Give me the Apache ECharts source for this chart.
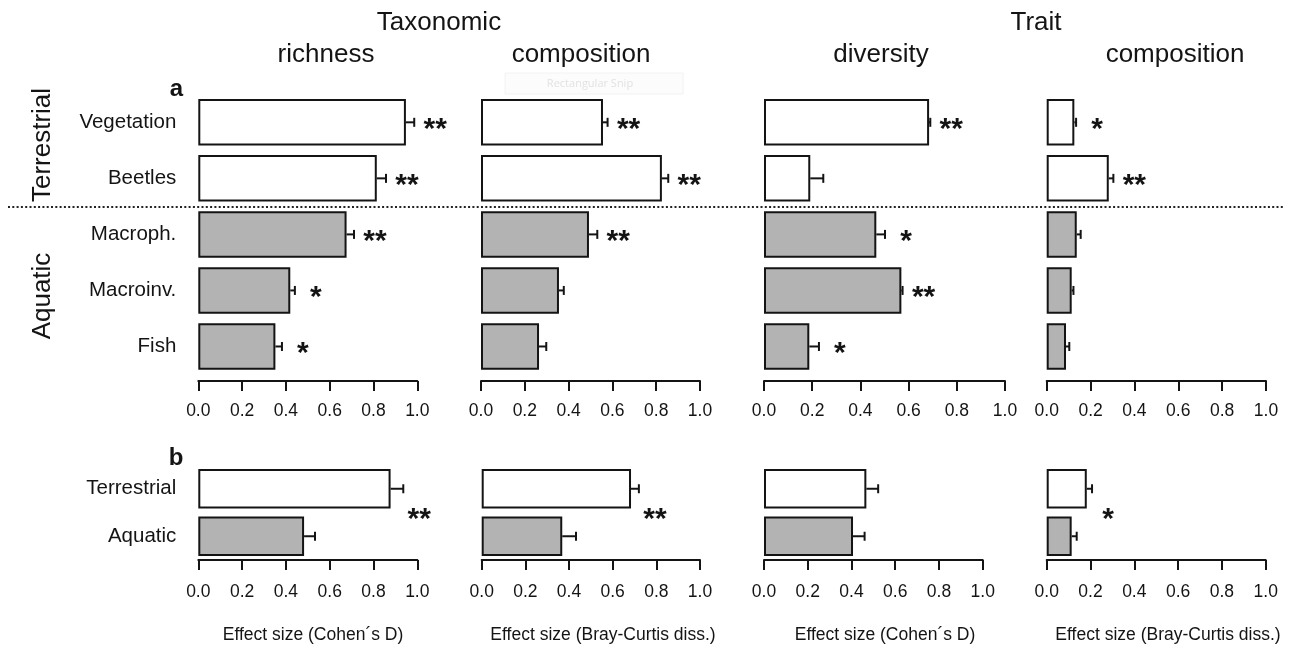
<!DOCTYPE html>
<html><head><meta charset="utf-8">
<script src="https://cdn.jsdelivr.net/npm/echarts@6/dist/echarts.min.js"></script>
<style>html,body{margin:0;padding:0;background:#fff}#c{width:1289px;height:648px}</style>
</head><body><div id="c"></div>
<script>
// ---------- DATA ----------
const categoriesA = ['Vegetation', 'Beetles', 'Macroph.', 'Macroinv.', 'Fish'];
const groupsA = ['terrestrial', 'terrestrial', 'aquatic', 'aquatic', 'aquatic'];
const categoriesB = ['Terrestrial', 'Aquatic'];
const groupsB = ['terrestrial', 'aquatic'];
const tickValues = [0, 0.2, 0.4, 0.6, 0.8, 1.0];

// panel a: effect sizes, upper end of error bar, significance
const taxRichnessA = [0.948, 0.815, 0.677, 0.420, 0.352];
const taxRichnessAUp = [0.986, 0.857, 0.711, 0.441, 0.382];
const taxRichnessASig = ['**', '**', '**', '*', '*'];

const taxCompositionA = [0.557, 0.826, 0.493, 0.356, 0.265];
const taxCompositionAUp = [0.578, 0.855, 0.531, 0.378, 0.298];
const taxCompositionASig = ['**', '**', '**', '', ''];

const traitDiversityA = [0.685, 0.192, 0.466, 0.570, 0.188];
const traitDiversityAUp = [0.690, 0.246, 0.502, 0.575, 0.228];
const traitDiversityASig = ['**', '', '*', '**', '*'];

const traitCompositionA = [0.126, 0.283, 0.137, 0.114, 0.088];
const traitCompositionAUp = [0.134, 0.304, 0.155, 0.122, 0.103];
const traitCompositionASig = ['*', '**', '', '', ''];

// panel b
const taxRichnessB = [0.878, 0.483];
const taxRichnessBUp = [0.936, 0.533];
const taxRichnessBSig = '**';

const taxCompositionB = [0.684, 0.369];
const taxCompositionBUp = [0.720, 0.432];
const taxCompositionBSig = '**';

const traitDiversityB = [0.468, 0.407];
const traitDiversityBUp = [0.522, 0.460];
const traitDiversityBSig = '';

const traitCompositionB = [0.183, 0.114];
const traitCompositionBUp = [0.207, 0.137];
const traitCompositionBSig = '*';

const axisNames = ['Effect size (Cohen\u00b4s D)', 'Effect size (Bray-Curtis diss.)', 'Effect size (Cohen\u00b4s D)', 'Effect size (Bray-Curtis diss.)'];

// ---------- STYLE / LAYOUT ----------
const FONT = '"Liberation Sans", Arial, Helvetica, sans-serif';
const INK = '#141414';
const FILL = {terrestrial: '#ffffff', aquatic: '#b3b3b3'};

const rowA = {top: 94.3, height: 280.2, barWidth: 46.5, axisOffset: 6.5, labelMargin: 21,
  lefts: [198.3, 481, 764, 1046.7], widths: [219, 219, 241, 219.3]};
const rowB = {top: 465, height: 95, barWidth: 39.5, axisOffset: 0, labelMargin: 23,
  lefts: [198.3, 481.7, 764, 1046.7], widths: [219, 218.3, 218.7, 219]};

const panels = [
  {row: rowA, col: 0, cats: categoriesA, groups: groupsA, v: taxRichnessA, up: taxRichnessAUp, sig: taxRichnessASig},
  {row: rowA, col: 1, cats: categoriesA, groups: groupsA, v: taxCompositionA, up: taxCompositionAUp, sig: taxCompositionASig},
  {row: rowA, col: 2, cats: categoriesA, groups: groupsA, v: traitDiversityA, up: traitDiversityAUp, sig: traitDiversityASig},
  {row: rowA, col: 3, cats: categoriesA, groups: groupsA, v: traitCompositionA, up: traitCompositionAUp, sig: traitCompositionASig},
  {row: rowB, col: 0, cats: categoriesB, groups: groupsB, v: taxRichnessB, up: taxRichnessBUp, sig: taxRichnessBSig},
  {row: rowB, col: 1, cats: categoriesB, groups: groupsB, v: taxCompositionB, up: taxCompositionBUp, sig: taxCompositionBSig},
  {row: rowB, col: 2, cats: categoriesB, groups: groupsB, v: traitDiversityB, up: traitDiversityBUp, sig: traitDiversityBSig},
  {row: rowB, col: 3, cats: categoriesB, groups: groupsB, v: traitCompositionB, up: traitCompositionBUp, sig: traitCompositionBSig}
];

const grid = [], xAxis = [], yAxis = [], series = [];

function starText(x, y, s) {
  return {type: 'text', x: x, y: y + 7,
    style: {text: s, fontSize: 30, fontWeight: 'bold', fontFamily: FONT, fill: INK,
      align: 'center', verticalAlign: 'middle', textAlign: 'center', textVerticalAlign: 'middle'}};
}

panels.forEach(function (p, i) {
  const r = p.row;
  grid.push({left: r.lefts[p.col], width: r.widths[p.col], top: r.top, height: r.height, containLabel: false});
  xAxis.push({
    gridIndex: i, type: 'value', min: 0, max: 1, interval: 0.2, position: 'bottom', offset: r.axisOffset,
    axisLine: {show: true, onZero: false, lineStyle: {color: INK, width: 2}},
    axisTick: {show: true, inside: false, length: 10, lineStyle: {color: INK, width: 2}},
    axisLabel: {show: true, fontSize: 17.5, fontFamily: FONT, color: INK, margin: r.labelMargin,
      formatter: function (val) { return tickValues.indexOf(Math.round(val * 10) / 10) >= 0 ? val.toFixed(1) : ''; }},
    splitLine: {show: false}
  });
  yAxis.push({
    gridIndex: i, type: 'category', inverse: true, data: p.cats,
    axisLine: {show: false}, axisTick: {show: false},
    axisLabel: {show: p.col === 0, fontSize: 20.5, fontFamily: FONT, color: INK, margin: 22}
  });
  series.push({
    type: 'bar', xAxisIndex: i, yAxisIndex: i, barWidth: r.barWidth, silent: true,
    data: p.v.map(function (val, k) {
      return {value: val, itemStyle: {color: FILL[p.groups[k]], borderColor: INK, borderWidth: 2}};
    })
  });
  const upArr = p.up, sigArr = p.sig, isB = (r === rowB);
  series.push({
    type: 'custom', xAxisIndex: i, yAxisIndex: i, silent: true, z: 5,
    encode: {x: [0, 2], y: 1},
    data: p.v.map(function (val, k) { return [val, k, upArr[k]]; }),
    renderItem: function (params, api) {
      const val = api.value(0), k = api.value(1), up = api.value(2);
      const p0 = api.coord([val, k]);
      const p1 = api.coord([up, k]);
      const st = {stroke: INK, lineWidth: 2};
      const children = [
        {type: 'line', shape: {x1: p0[0], y1: p0[1], x2: p1[0], y2: p1[1]}, style: st},
        {type: 'line', shape: {x1: p1[0], y1: p1[1] - 4.5, x2: p1[0], y2: p1[1] + 4.5}, style: st}
      ];
      if (!isB) {
        if (sigArr[k]) children.push(starText(p1[0] + 21, p1[1], sigArr[k]));
      } else if (k === 0 && sigArr) {
        const maxUp = Math.max.apply(null, upArr);
        const a = api.coord([maxUp, 0]), b = api.coord([maxUp, 1]);
        children.push(starText(a[0] + 16, (a[1] + b[1]) / 2, sigArr));
      }
      return {type: 'group', children: children};
    }
  });
});

function txt(x, y, s, size, extra) {
  return Object.assign({type: 'text', x: x, y: y,
    style: {text: s, fontSize: size, fontFamily: FONT, fill: INK,
      align: 'center', verticalAlign: 'middle', textAlign: 'center', textVerticalAlign: 'middle'}}, extra || {});
}

const graphic = [
  txt(439, 23, 'Taxonomic', 26),
  txt(1036, 23, 'Trait', 26),
  txt(326, 55, 'richness', 26),
  txt(581, 55, 'composition', 26),
  txt(881, 55, 'diversity', 26),
  txt(1175, 55, 'composition', 26),
  Object.assign(txt(43, 145, 'Terrestrial', 26), {rotation: Math.PI / 2}),
  Object.assign(txt(43, 296, 'Aquatic', 26), {rotation: Math.PI / 2}),
  {type: 'text', x: 176.5, y: 89, style: {text: 'a', fontSize: 24, fontWeight: 'bold', fontFamily: FONT, fill: INK,
    align: 'center', verticalAlign: 'middle', textAlign: 'center', textVerticalAlign: 'middle'}},
  {type: 'text', x: 176, y: 458, style: {text: 'b', fontSize: 24, fontWeight: 'bold', fontFamily: FONT, fill: INK,
    align: 'center', verticalAlign: 'middle', textAlign: 'center', textVerticalAlign: 'middle'}},
  {type: 'line', shape: {x1: 8, y1: 207, x2: 1285, y2: 207}, style: {stroke: '#222', lineWidth: 2, lineDash: [2, 2.3]}, z: 10},
  {type: 'rect', shape: {x: 505, y: 73, width: 178, height: 21}, style: {fill: '#fcfcfc', stroke: '#f2f2f2', lineWidth: 1}, z: 0},
  txt(590, 84, 'Rectangular Snip', 11, {style: {text: 'Rectangular Snip', fontSize: 11, fontFamily: '"Open Sans", sans-serif', fill: '#e2e2e2',
    align: 'center', verticalAlign: 'middle', textAlign: 'center', textVerticalAlign: 'middle'}}),
  txt(313, 635, axisNames[0], 17.5),
  txt(603, 635, axisNames[1], 17.5),
  txt(885, 635, axisNames[2], 17.5),
  txt(1168, 635, axisNames[3], 17.5)
];

const chart = echarts.init(document.getElementById('c'), null, {renderer: 'canvas', width: 1289, height: 648});
chart.setOption({
  animation: false,
  backgroundColor: '#ffffff',
  grid: grid, xAxis: xAxis, yAxis: yAxis, series: series, graphic: graphic
});
</script>
</body></html>
